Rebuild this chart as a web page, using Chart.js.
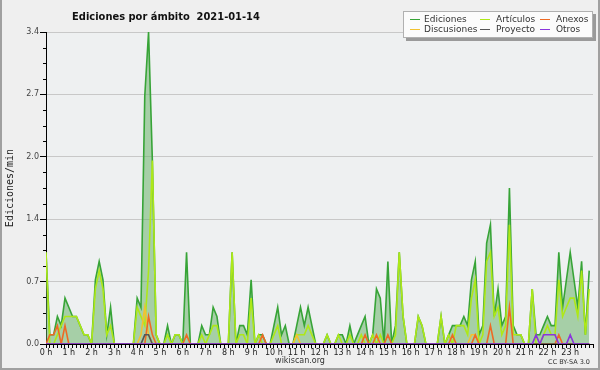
<!DOCTYPE html>
<html>
<head>
<meta charset="utf-8">
<script src="https://cdn.jsdelivr.net/npm/chart.js@4"></script>
<style>
  html, body { margin: 0; padding: 0; background: #efefef; }
</style>
</head>
<body>
<canvas id="chart" width="600" height="370"></canvas>
<script>
// one value every 10 minutes, 0 h .. 23:50 h (edits per minute)
const hourLabels = ['0 h','1 h','2 h','3 h','4 h','5 h','6 h','7 h','8 h','9 h','10 h','11 h',
                    '12 h','13 h','14 h','15 h','16 h','17 h','18 h','19 h','20 h','21 h','22 h','23 h'];
const yTickLabels = ['0.0','0.7','1.4','2.0','2.7','3.4'];

const ediciones = [
  1.0, 0.1, 0.1, 0.3, 0.2, 0.5, 0.4, 0.3, 0.3, 0.2, 0.1, 0.1,
  0,   0.7, 0.9, 0.7, 0.1, 0.4, 0,   0,   0,   0,   0,   0,
  0.5, 0.4, 2.7, 3.4, 2.0, 0.1, 0,   0,   0.2, 0,   0.1, 0.1,
  0,   1.0, 0,   0,   0,   0.2, 0.1, 0.1, 0.4, 0.3, 0,   0,
  0,   1.0, 0,   0.2, 0.2, 0.1, 0.7, 0,   0.1, 0.1, 0,   0,
  0.2, 0.4, 0.1, 0.2, 0,   0,   0.2, 0.4, 0.2, 0.4, 0.2, 0,
  0,   0,   0.1, 0,   0,   0.1, 0.1, 0,   0.2, 0,   0.1, 0.2,
  0.3, 0,   0.1, 0.6, 0.5, 0,   0.9, 0,   0.2, 1.0, 0.3, 0,
  0,   0,   0.3, 0.2, 0,   0,   0,   0,   0.3, 0,   0.1, 0.2,
  0.2, 0.2, 0.3, 0.2, 0.7, 0.9, 0.1, 0.2, 1.1, 1.3, 0.3, 0.6,
  0.2, 0.3, 1.7, 0.2, 0.1, 0.1, 0,   0,   0.6, 0.1, 0.1, 0.2,
  0.3, 0.2, 0.2, 1.0, 0.4, 0.7, 1.0, 0.7, 0.4, 0.9, 0.1, 0.8
];
const articulos = [
  1.0, 0,   0,   0.1, 0.2, 0.3, 0.3, 0.3, 0.3, 0.2, 0.1, 0.1,
  0,   0.6, 0.8, 0.6, 0.1, 0.2, 0,   0,   0,   0,   0,   0,
  0.4, 0.3, 0.2, 0.8, 2.0, 0.1, 0,   0,   0.1, 0,   0.1, 0.1,
  0,   0,   0,   0,   0,   0.1, 0,   0.1, 0.2, 0.2, 0,   0,
  0,   1.0, 0,   0.1, 0.1, 0,   0.5, 0,   0.1, 0,   0,   0,
  0.1, 0.2, 0,   0,   0,   0,   0.1, 0.1, 0.1, 0.2, 0.1, 0,
  0,   0,   0.1, 0,   0,   0.1, 0,   0,   0.1, 0,   0,   0.1,
  0,   0,   0.1, 0,   0.1, 0,   0,   0,   0.1, 1.0, 0.3, 0,
  0,   0,   0.3, 0.2, 0,   0,   0,   0,   0.3, 0,   0.1, 0,
  0.2, 0.2, 0.2, 0.1, 0.5, 0.7, 0,   0.1, 0.9, 1.0, 0.3, 0.4,
  0.1, 0.2, 1.3, 0.1, 0.1, 0.1, 0,   0,   0.6, 0,   0,   0.1,
  0.2, 0.1, 0.1, 0.7, 0.3, 0.4, 0.5, 0.5, 0.3, 0.8, 0.1, 0.6
];
const anexos = [
  0, 0.1, 0.1, 0.2, 0, 0.2, 0, 0, 0, 0, 0, 0,
  0, 0,   0,   0,   0, 0,   0, 0, 0, 0, 0, 0,
  0, 0,   0,   0.3, 0.1, 0, 0, 0, 0, 0, 0, 0,
  0, 0.1, 0,   0,   0, 0,   0, 0, 0, 0, 0, 0,
  0, 0,   0,   0,   0, 0,   0, 0, 0, 0.1, 0, 0,
  0, 0,   0,   0,   0, 0,   0, 0, 0, 0, 0, 0,
  0, 0,   0,   0,   0, 0,   0, 0, 0, 0, 0, 0,
  0.1, 0, 0,   0.1, 0, 0,   0.1, 0, 0, 0, 0, 0,
  0, 0,   0,   0,   0, 0,   0, 0, 0, 0, 0, 0.1,
  0, 0,   0,   0,   0, 0.1, 0, 0, 0, 0.2, 0, 0,
  0, 0,   0.4, 0,   0, 0,   0, 0, 0, 0, 0, 0,
  0, 0,   0,   0.1, 0, 0,   0, 0, 0, 0, 0, 0
];
const discusiones = [
  0, 0,   0,   0,   0, 0,   0, 0, 0, 0, 0, 0,
  0, 0,   0,   0,   0, 0,   0, 0, 0, 0, 0, 0,
  0, 0.1, 0.4, 0.1, 0, 0,   0, 0, 0, 0, 0, 0,
  0, 0,   0,   0,   0, 0,   0, 0, 0, 0, 0, 0,
  0, 0,   0,   0,   0, 0,   0, 0, 0, 0, 0, 0,
  0, 0,   0,   0,   0, 0,   0.1, 0, 0, 0, 0, 0,
  0, 0,   0,   0,   0, 0,   0, 0, 0, 0, 0, 0,
  0, 0,   0,   0,   0, 0,   0, 0, 0, 0, 0, 0,
  0, 0,   0,   0,   0, 0,   0, 0, 0, 0, 0, 0,
  0, 0,   0,   0,   0.1, 0.1, 0, 0, 0, 0, 0, 0,
  0, 0,   0,   0,   0, 0,   0, 0, 0, 0, 0, 0,
  0, 0,   0,   0,   0, 0,   0, 0, 0, 0, 0, 0
];
const proyecto = [
  0, 0, 0,   0,   0, 0, 0, 0, 0, 0, 0, 0,
  0, 0, 0,   0,   0, 0, 0, 0, 0, 0, 0, 0,
  0, 0, 0.1, 0.1, 0, 0, 0, 0, 0, 0, 0, 0,
  0, 0, 0,   0,   0, 0, 0, 0, 0, 0, 0, 0,
  0, 0, 0,   0,   0, 0, 0, 0, 0, 0, 0, 0,
  0, 0, 0,   0,   0, 0, 0, 0, 0, 0, 0, 0,
  0, 0, 0,   0,   0, 0, 0, 0, 0, 0, 0, 0,
  0, 0, 0,   0,   0, 0, 0, 0, 0, 0, 0, 0,
  0, 0, 0,   0,   0, 0, 0, 0, 0, 0, 0, 0,
  0, 0, 0,   0,   0, 0, 0, 0, 0, 0, 0, 0,
  0, 0, 0,   0,   0, 0, 0, 0, 0, 0, 0, 0,
  0, 0, 0,   0,   0, 0, 0, 0, 0, 0, 0, 0
];
const otros = [
  0,   0,   0,   0, 0, 0, 0,   0, 0, 0,   0, 0,
  0,   0,   0,   0, 0, 0, 0,   0, 0, 0,   0, 0,
  0,   0,   0,   0, 0, 0, 0,   0, 0, 0,   0, 0,
  0,   0,   0,   0, 0, 0, 0,   0, 0, 0,   0, 0,
  0,   0,   0,   0, 0, 0, 0,   0, 0, 0,   0, 0,
  0,   0,   0,   0, 0, 0, 0,   0, 0, 0,   0, 0,
  0,   0,   0,   0, 0, 0, 0,   0, 0, 0,   0, 0,
  0,   0,   0,   0, 0, 0, 0,   0, 0, 0,   0, 0,
  0,   0,   0,   0, 0, 0, 0,   0, 0, 0,   0, 0,
  0,   0,   0,   0, 0, 0, 0,   0, 0, 0,   0, 0,
  0,   0,   0,   0, 0, 0, 0,   0, 0, 0.1, 0, 0.1,
  0.1, 0.1, 0.1, 0, 0, 0, 0.1, 0, 0, 0,   0, 0
];

const pts = arr => arr.map((v, i) => ({ x: i, y: v }));

const series = [
  { label: 'Ediciones',   data: ediciones,   color: '#37a437', order: 6 },
  { label: 'Artículos',   data: articulos,   color: '#aee818', order: 5 },
  { label: 'Anexos',      data: anexos,      color: '#ee6a24', order: 3 },
  { label: 'Discusiones', data: discusiones, color: '#f2c230', order: 4 },
  { label: 'Proyecto',    data: proyecto,    color: '#555555', order: 2 },
  { label: 'Otros',       data: otros,       color: '#8a35dc', order: 1 }
];

const datasets = series.map(s => ({
  label: s.label,
  data: pts(s.data),
  borderColor: s.color,
  backgroundColor: s.label === 'Ediciones' ? 'rgba(100,176,100,0.52)' : s.color,
  fill: s.label === 'Ediciones' ? 'origin' : false,
  borderWidth: 1.6,
  order: s.order
}));

// background, title, legend box, credits
const decor = {
  id: 'decor',
  beforeDraw(chart) {
    const { ctx, chartArea: a } = chart;
    ctx.save();
    ctx.fillStyle = '#efefef';
    ctx.fillRect(0, 0, chart.width, chart.height);
    ctx.fillStyle = '#eef0f1';
    ctx.fillRect(a.left, a.top, a.right - a.left + 3, a.bottom - a.top);
    ctx.restore();
  },
  afterDraw(chart) {
    const { ctx } = chart;
    const y = chart.scales.y;
    ctx.save();
    // minor y ticks
    ctx.strokeStyle = '#000';
    ctx.lineWidth = 1;
    y.ticks.forEach((t, i) => {
      if (i % 4 === 0) return;
      const py = Math.round(y.getPixelForValue(t.value)) + 0.5;
      ctx.beginPath();
      ctx.moveTo(y.right - 3, py);
      ctx.lineTo(y.right, py);
      ctx.stroke();
    });

    // title
    ctx.fillStyle = '#111';
    ctx.font = 'bold 11px "DejaVu Sans Condensed"';
    ctx.textAlign = 'center';
    ctx.textBaseline = 'alphabetic';
    ctx.fillText('Ediciones por ámbito  2021-01-14', 166, 20);

    // legend box
    ctx.fillStyle = '#9a9a9a';
    ctx.fillRect(406, 14, 190, 27);
    ctx.fillStyle = '#fbfbfb';
    ctx.fillRect(403, 11, 190, 27);
    ctx.strokeStyle = '#b0b0b0';
    ctx.strokeRect(403.5, 11.5, 189, 26);
    const cols = [[410, 424], [480, 496], [540, 556]];
    ctx.font = '9px "DejaVu Sans"';
    ctx.textAlign = 'left';
    ctx.textBaseline = 'middle';
    series.forEach((s, i) => {
      const c = cols[i % 3];
      const ly = i < 3 ? 19.5 : 29.5;
      ctx.strokeStyle = s.color;
      ctx.lineWidth = 1;
      ctx.beginPath();
      ctx.moveTo(c[0], ly);
      ctx.lineTo(c[0] + 10, ly);
      ctx.stroke();
      ctx.fillStyle = '#333';
      ctx.fillText(s.label, c[1], ly);
    });

    // credits
    ctx.fillStyle = '#333';
    ctx.font = '8px "DejaVu Sans"';
    ctx.textAlign = 'center';
    ctx.fillText('wikiscan.org', 300, 361);
    ctx.font = '6.5px "DejaVu Sans"';
    ctx.textAlign = 'right';
    ctx.fillText('CC BY-SA 3.0', 590, 362);

    // frame
    ctx.strokeStyle = '#a0a0a0';
    ctx.lineWidth = 2;
    ctx.beginPath();
    ctx.moveTo(1, 0);
    ctx.lineTo(1, 369);
    ctx.lineTo(599, 369);
    ctx.lineTo(599, 0);
    ctx.stroke();
    ctx.restore();
  }
};

new Chart(document.getElementById('chart'), {
  type: 'line',
  data: { datasets },
  options: {
    responsive: false,
    animation: false,
    layout: { padding: { top: 32, right: 7, bottom: 0, left: 0 } },
    elements: { point: { radius: 0 }, line: { tension: 0 } },
    plugins: { legend: { display: false }, title: { display: false }, tooltip: { enabled: false } },
    scales: {
      x: {
        type: 'linear',
        min: 0,
        max: 144,
        afterFit(s) { s.height = 26; },
        border: { color: '#000', width: 1 },
        grid: { drawOnChartArea: false, tickLength: 4, tickColor: '#000' },
        ticks: {
          stepSize: 1,
          autoSkip: false,
          maxRotation: 0,
          minRotation: 0,
          padding: 0,
          color: '#222',
          font: { family: 'DejaVu Sans', size: 8 },
          callback: v => (v % 6 === 0 && v / 6 < hourLabels.length) ? hourLabels[v / 6] : ''
        }
      },
      y: {
        min: 0,
        max: 3.4,
        afterFit(s) { s.width = 46; },
        border: { color: '#000', width: 1 },
        grid: {
          color: c => (c.index % 4 === 0 && c.index > 0) ? '#c8c8c8' : 'rgba(0,0,0,0)',
          tickColor: c => c.index % 4 === 0 ? '#000' : 'rgba(0,0,0,0)',
          tickLength: 6
        },
        ticks: {
          stepSize: 0.17,
          autoSkip: false,
          padding: 1,
          color: '#444',
          font: { family: 'DejaVu Sans', size: 8 },
          callback: (v, i) => i % 4 === 0 ? yTickLabels[i / 4] : ''
        },
        title: {
          display: true,
          text: 'Ediciones/min',
          color: '#222',
          font: { family: 'DejaVu Sans Mono', size: 10 },
          padding: { top: 4, bottom: 0 }
        }
      }
    }
  },
  plugins: [decor]
});
</script>
</body>
</html>
